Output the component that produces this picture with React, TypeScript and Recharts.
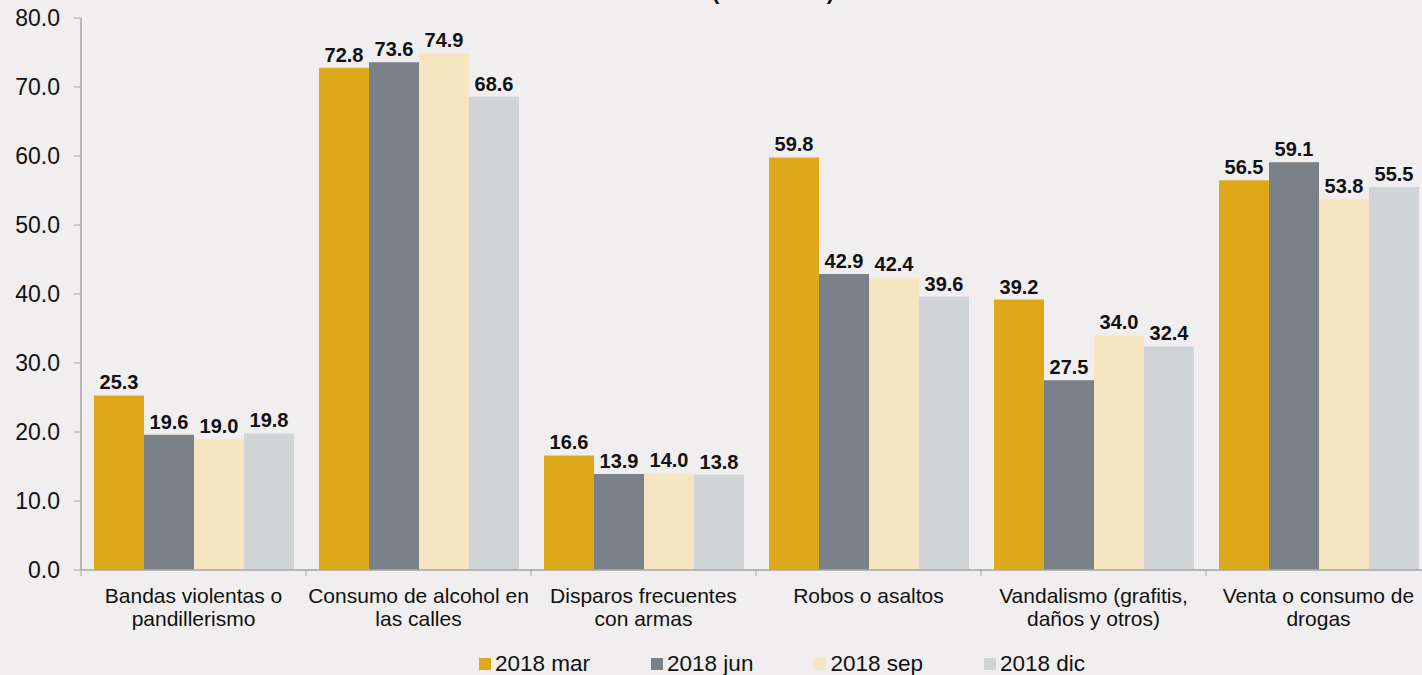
import React from "react";
import { BarChart, Bar, XAxis, YAxis, Legend, LabelList } from "recharts";

const categories = [
  "Bandas violentas o|pandillerismo",
  "Consumo de alcohol en|las calles",
  "Disparos frecuentes|con armas",
  "Robos o asaltos",
  "Vandalismo (grafitis,|daños y otros)",
  "Venta o consumo de|drogas",
];
const mar2018 = [25.3, 72.8, 16.6, 59.8, 39.2, 56.5];
const jun2018 = [19.6, 73.6, 13.9, 42.9, 27.5, 59.1];
const sep2018 = [19.0, 74.9, 14.0, 42.4, 34.0, 53.8];
const dic2018 = [19.8, 68.6, 13.8, 39.6, 32.4, 55.5];
const yTicks = [0, 10, 20, 30, 40, 50, 60, 70, 80];

const SERIES = [
  { key: "mar", name: "2018 mar", values: mar2018, color: "#DDA91B" },
  { key: "jun", name: "2018 jun", values: jun2018, color: "#7B8189" },
  { key: "sep", name: "2018 sep", values: sep2018, color: "#F5E5C1" },
  { key: "dic", name: "2018 dic", values: dic2018, color: "#D1D4D7" },
];

const data = categories.map((c, i) => {
  const row: Record<string, any> = { cat: c };
  SERIES.forEach((s) => (row[s.key] = s.values[i]));
  return row;
});

const FONT = "'Liberation Sans', Arial, sans-serif";
const BG = "#F0EEEF";
const AXIS = "#A6A6A6";

const CatTick = ({ x, y, payload }: any) => {
  const lines = String(payload.value).split("|");
  return (
    <g>
      <line x1={x - 112.5} x2={x - 112.5} y1={y - 8} y2={y - 2} stroke={AXIS} />
      <text x={x} y={y} textAnchor="middle" fontSize={21} fill="#111" fontFamily={FONT}>
        {lines.map((l, i) => (
          <tspan key={i} x={x} dy={i === 0 ? 25 : 23}>{l}</tspan>
        ))}
      </text>
    </g>
  );
};

const LegendContent = () => (
  <div style={{ display: "flex", gap: 61, fontFamily: FONT, fontSize: 22.5, color: "#111" }}>
    {SERIES.map((s) => (
      <div key={s.key} style={{ display: "flex", alignItems: "center" }}>
        <span style={{ width: 12, height: 12, background: s.color, display: "inline-block", marginRight: 4 }} />
        <span>{s.name}</span>
      </div>
    ))}
  </div>
);

export default function App() {
  return (
    <div style={{ position: "absolute", top: 0, left: 0, width: 1422, height: 675, overflow: "hidden", background: BG }}>
      <div style={{ position: "absolute", top: -21, left: 773, transform: "translateX(-50%)", fontFamily: FONT, fontWeight: "bold", fontSize: 22, color: "#111", whiteSpace: "nowrap" }}>
        (Por ciento)
      </div>
      <BarChart width={1431} height={675} data={data} margin={{ top: 18, right: 0, left: 0, bottom: 0 }}
        barCategoryGap={13} barGap={0}>
        <XAxis dataKey="cat" interval={0} height={105} tick={<CatTick />} tickLine={false}
          axisLine={{ stroke: AXIS, strokeWidth: 1.5 }} />
        <YAxis width={81} domain={[0, 80]} ticks={yTicks} tickFormatter={(v: number) => v.toFixed(1)}
          tickSize={7} tickMargin={14} tickLine={{ stroke: AXIS }} axisLine={{ stroke: AXIS, strokeWidth: 1.5 }}
          tick={{ fontSize: 23, fill: "#111", fontFamily: FONT }} />
        <Legend verticalAlign="middle" layout="horizontal" content={<LegendContent />}
          wrapperStyle={{ top: 651, left: 479, width: 800 }} />
        {SERIES.map((s) => (
          <Bar key={s.key} dataKey={s.key} name={s.name} fill={s.color} isAnimationActive={false}>
            <LabelList dataKey={s.key} position="top" offset={6} formatter={(v: any) => Number(v).toFixed(1)}
              style={{ fontSize: 20, fontWeight: "bold", fill: "#111", fontFamily: FONT }} />
          </Bar>
        ))}
      </BarChart>
    </div>
  );
}
